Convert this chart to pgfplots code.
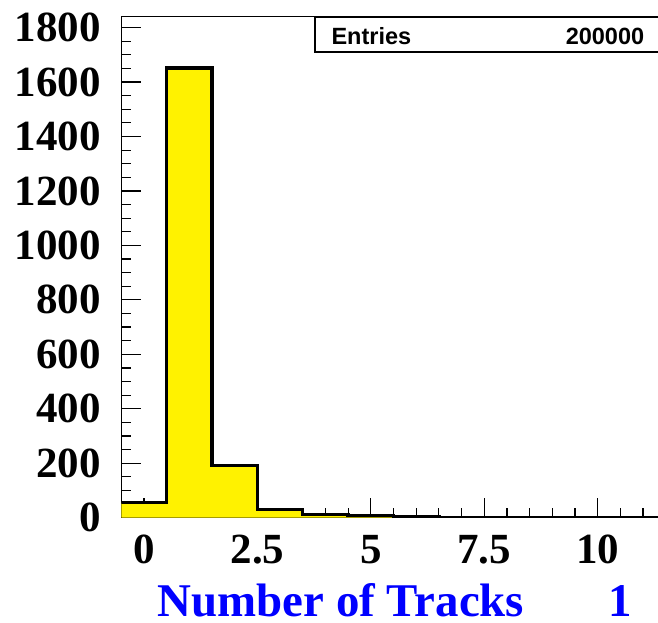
\documentclass[border=0pt]{standalone}
\usepackage{fontspec}
\setmainfont{Liberation Serif}
\newfontfamily\statfont{Liberation Sans}
\usepackage{pgfplots}
\pgfplotsset{compat=1.18}

\begin{document}
\begin{tikzpicture}
\useasboundingbox (-121.3pt,-105.3pt) rectangle (536.7pt,517.7pt);
\begin{axis}[
  at={(0,0)}, anchor=south west,
  scale only axis, width=536.7pt, height=501pt,
  xmin=-0.5, xmax=11.33, ymin=0, ymax=1840,
  axis x line=box, axis y line=left,
  axis line style={-, line width=1.5pt},
  xtick={0,2.5,5,7.5,10}, minor xtick={-0.5,0,...,11.5},
  ytick={0,200,...,1800}, minor ytick={0,50,...,1800},
  tick align=inside, xtick pos=bottom, ytick pos=left,
  major tick length=20pt, minor tick length=10pt,
  major tick style={black, line width=1.2pt},
  minor tick style={black, line width=1.2pt},
  scaled ticks=false,
  /pgf/number format/1000 sep={},
  /pgf/number format/assume math mode=true,
  tick label style={font=\bfseries\fontsize{43}{43}\selectfont, inner sep=0pt},
  xticklabel style={anchor=north, yshift=-17.3pt},
  yticklabel style={anchor=east, xshift=-20.3pt},
  xlabel={Number of Tracks\hspace{84pt}1},
  xlabel style={at={(axis description cs:0.0674,-0.1976)}, anchor=base west,
    inner sep=0pt, font=\bfseries\fontsize{46.9}{47}\selectfont, text=blue},
]
% histogram fill
\addplot[const plot, draw=none, fill=yellow] coordinates {
  (-0.5,55) (0.5,1652) (1.5,192) (2.5,31) (3.5,13) (4.5,7) (5.5,4)
  (6.5,2) (7.5,1) (8.5,1) (9.5,0) (10.5,0) (11.5,0)
} \closedcycle;
% histogram outline
\addplot[const plot, draw=black, line width=3.3pt, line join=miter] coordinates {
  (-0.5,55) (0.5,1652) (1.5,192) (2.5,31) (3.5,13) (4.5,7) (5.5,4)
  (6.5,2) (7.5,1) (8.5,1) (9.5,0) (10.5,0) (11.5,0)
};
% stats box
\draw[line width=2pt] (axis cs:13,1840) -| (axis cs:3.77,1710) -- (axis cs:13,1710);
\node[anchor=base west, inner sep=0pt, font=\statfont\bfseries\fontsize{23.5}{24}\selectfont]
  at (axis cs:4.13,1739) {Entries};
\node[anchor=base east, inner sep=0pt, font=\statfont\bfseries\fontsize{23.5}{24}\selectfont]
  at (axis cs:11.03,1739) {200000};
\end{axis}
\end{tikzpicture}
\end{document}
